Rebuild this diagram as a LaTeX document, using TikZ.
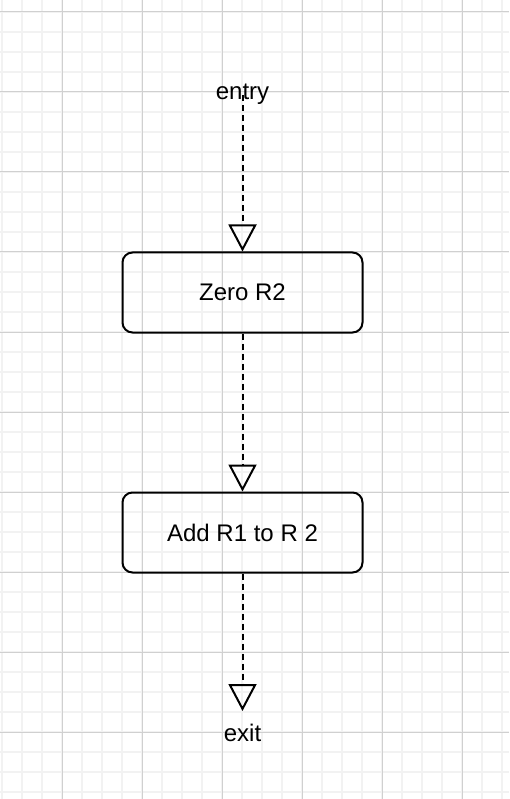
\documentclass[tikz,border=0pt]{standalone}
\usepackage{fontspec}
\setmainfont{Liberation Sans}
\usetikzlibrary{arrows.meta}
\definecolor{minorgrid}{HTML}{f2f2f2}
\definecolor{majorgrid}{HTML}{d0d0d0}
\newcommand{\labelfont}{\fontsize{24}{29}\selectfont}

\begin{document}
\begin{tikzpicture}[x=1pt, y=-1pt,
    stepbox/.style={draw, line width=2pt, rounded corners=10pt, minimum width=240pt,
      minimum height=80pt, inner sep=0pt, font=\labelfont},
    flow/.style={line width=2pt, dash pattern=on 6pt off 4pt,
      -{Triangle[open, length=27pt, width=28pt]}},
    portlabel/.style={font=\labelfont, inner sep=0pt}]
  \useasboundingbox (0,0) rectangle (509,799);

  % background grid
  \begin{scope}[minorgrid, line width=1.5pt]
  \foreach \x in {2,22,...,502} \draw (\x,0) -- (\x,799);
  \foreach \y in {12,32,...,792} \draw (0,\y) -- (509,\y);
  \end{scope}
  \begin{scope}[majorgrid, line width=1pt]
  \foreach \x in {62,142,...,462} \draw (\x,0) -- (\x,799);
  \foreach \y in {12,92,...,732} \draw (0,\y) -- (509,\y);
  \end{scope}

  % steps
  \node[stepbox] (zero) at (242.5,292.5) {Zero R2};
  \node[stepbox] (add) at (242.5,532.5) {Add R1 to R 2};

  % entry and exit
  \coordinate (entry) at (242.5,95);
  \coordinate (exit) at (242.5,711);
  \node[portlabel] (entrylabel) at (242.5,94) {entry};
  \node[portlabel] (exitlabel) at (242.5,733) {exit};

  % flow
  \draw[flow] (entry) -- (zero);
  \draw[flow] (zero) -- (add);
  \draw[flow] (add) -- (exit);
\end{tikzpicture}
\end{document}
